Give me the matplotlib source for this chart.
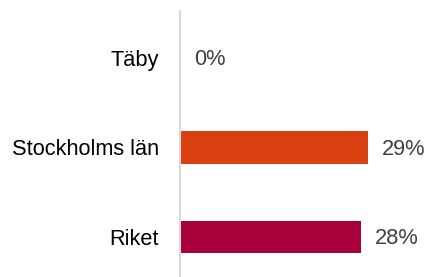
import matplotlib
matplotlib.use("Agg")
import matplotlib.pyplot as plt

categories = ["Täby", "Stockholms län", "Riket"]
values = [0, 29, 28]
labels = ["0%", "29%", "28%"]
colors = ["#D9400F", "#D9400F", "#A8003A"]

W, H = 427, 277
fig = plt.figure(figsize=(W / 100, H / 100), dpi=100)
ax = fig.add_axes([180 / W, 0, (W - 180) / W, (H - 11) / H])

pos = list(range(len(categories)))
ax.barh(pos, values, height=0.36, color=colors, left=0)
ax.set_ylim(2.447, -0.525)
ax.set_xlim(0, 38.2)

font = ["Liberation Sans", "DejaVu Sans"]
for p, v, lab in zip(pos, values, labels):
    ax.annotate(lab, (v, p), xytext=(10, -1.2), textcoords="offset points",
                va="center", ha="left", fontsize=15.7, color="#404040", family=font)

ax.set_yticks(pos)
ax.set_yticklabels(categories, fontsize=15.7, color="#000000", family=font)
ax.tick_params(axis="y", length=0, pad=15)
ax.set_xticks([])
for s in ["top", "right", "bottom"]:
    ax.spines[s].set_visible(False)
ax.spines["left"].set_color("#d9d9d9")
ax.spines["left"].set_linewidth(1.5)

fig.savefig("out.png", dpi=100)
